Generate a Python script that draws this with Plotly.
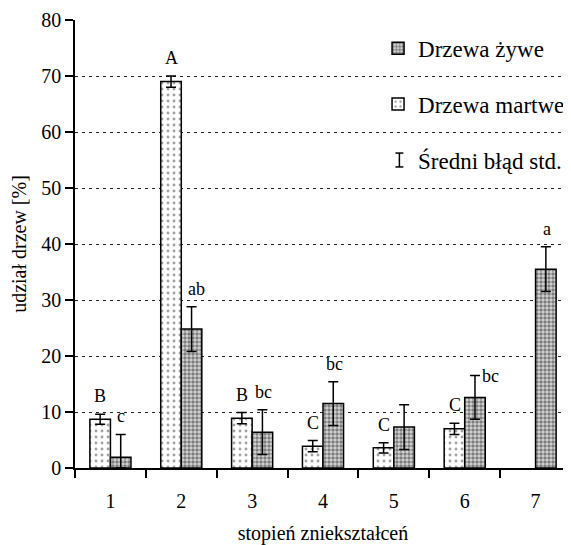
import plotly.graph_objects as go

categories = ["1", "2", "3", "4", "5", "6", "7"]
martwe = [8.7, 69.0, 8.9, 3.9, 3.6, 7.0, None]
martwe_err = [0.9, 1.0, 1.0, 1.0, 0.9, 1.0, None]
zywe = [1.9, 24.8, 6.4, 11.5, 7.3, 12.6, 35.5]
zywe_err = [4.1, 4.0, 4.0, 3.9, 4.0, 3.9, 4.0]
martwe_letters = ["B", "A", "B", "C", "C", "C", ""]
zywe_letters = ["c", "ab", "bc", "bc", "", "bc", "a"]

FONT = "'Liberation Serif', 'DejaVu Serif', serif"

def minus(vals, errs):
    return [None if v is None else min(v, e) for v, e in zip(vals, errs)]

fig = go.Figure()
fig.add_trace(go.Bar(
    x=categories, y=martwe, name="Drzewa martwe", legendrank=2, legendgroup="m",
    marker=dict(color="white", line=dict(color="black", width=1.5),
                pattern=dict(shape=".", fgcolor="#444", bgcolor="white", size=6, solidity=0.18)),
    error_y=dict(type="data", array=martwe_err, arrayminus=minus(martwe, martwe_err),
                 color="black", thickness=1.5, width=5),
))
fig.add_trace(go.Bar(
    x=categories, y=zywe, name="Drzewa żywe", legendrank=1, legendgroup="z",
    marker=dict(color="#ddd", line=dict(color="black", width=1.5),
                pattern=dict(shape=".", fgcolor="#222", bgcolor="#d8d8d8", size=4, solidity=0.6)),
    error_y=dict(type="data", array=zywe_err, arrayminus=minus(zywe, zywe_err),
                 color="black", thickness=1.5, width=5),
))
fig.add_trace(go.Scatter(
    x=[None], y=[None], mode="markers", name="Średni błąd std.", legendrank=3, legendgroup="e",
    marker=dict(symbol="line-ns-open", size=13, color="rgba(0,0,0,0)",
                line=dict(color="rgba(0,0,0,0)", width=1.5)),
))

ann = []
for i, c in enumerate(categories):
    if martwe_letters[i]:
        ann.append(dict(x=i, y=martwe[i] + martwe_err[i], text=martwe_letters[i], xshift=-10,
                        yanchor="bottom", yshift=6, showarrow=False))
    if zywe_letters[i]:
        if c == "6":
            ann.append(dict(x=i, y=zywe[i] + zywe_err[i], text=zywe_letters[i], xshift=15,
                            xanchor="left", yanchor="middle", showarrow=False))
        else:
            ann.append(dict(x=i, y=zywe[i] + zywe_err[i], text=zywe_letters[i],
                            xshift=15 if c == "2" else 11,
                            yanchor="bottom", yshift=6, showarrow=False))

# I-beam symbol for the error-bar legend entry
LX0, LX1, LXC, LYT, LYB = 0.646, 0.662, 0.654, 0.703, 0.672
sym_line = dict(color="black", width=1.5)
legend_shapes = [
    dict(type="line", xref="paper", yref="paper", x0=LX0, x1=LX1, y0=LYT, y1=LYT, line=sym_line),
    dict(type="line", xref="paper", yref="paper", x0=LX0, x1=LX1, y0=LYB, y1=LYB, line=sym_line),
    dict(type="line", xref="paper", yref="paper", x0=LXC, x1=LXC, y0=LYB, y1=LYT, line=sym_line),
]

fig.update_layout(
    width=563, height=537,
    margin=dict(l=67, r=0, t=12, b=77, autoexpand=False),
    paper_bgcolor="white", plot_bgcolor="white",
    font=dict(family=FONT, size=18, color="black"),
    barmode="group", bargap=0.42, bargroupgap=0,
    showlegend=True,
    legend=dict(x=0.611, y=0.985, xanchor="left", yanchor="top", bgcolor="rgba(0,0,0,0)",
                font=dict(family=FONT, size=23), tracegroupgap=23, itemwidth=30),
    annotations=ann,
    shapes=legend_shapes,
)
fig.update_xaxes(
    type="category", range=[-0.5, 6.5], tickson="boundaries", ticks="outside", ticklen=8,
    tickwidth=1.5, tickcolor="black", showline=True, linecolor="black", linewidth=1.5,
    showgrid=False, tickfont=dict(family=FONT, size=20), automargin=False,
    ticklabelstandoff=14,
    title=dict(text="stopień zniekształceń", font=dict(family=FONT, size=20), standoff=23),
)
fig.update_yaxes(
    range=[0, 80], dtick=10, ticks="outside", ticklen=8, tickwidth=1.5, tickcolor="black",
    showline=True, linecolor="black", linewidth=1.5,
    showgrid=True, gridcolor="#222", gridwidth=1.2, griddash="3px,4px",
    zeroline=False, tickfont=dict(family=FONT, size=20), automargin=False,
    title=dict(text="udział drzew [%]", font=dict(family=FONT, size=20), standoff=12),
)
fig.write_html("out.html")
